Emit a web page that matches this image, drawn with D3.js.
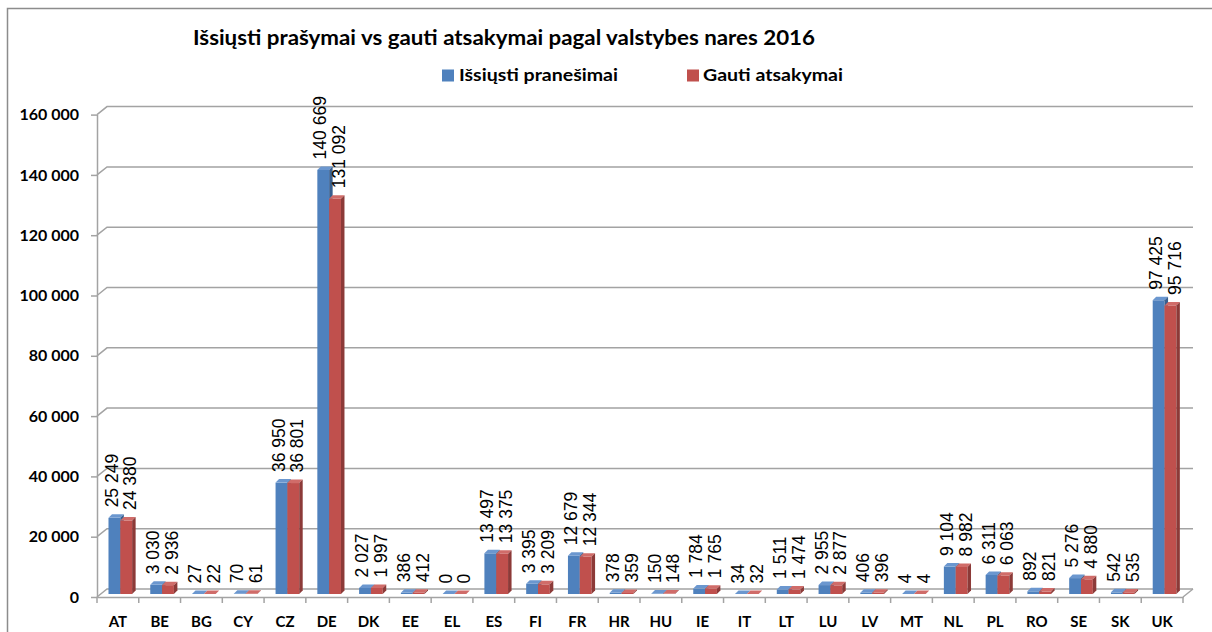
<!DOCTYPE html>
<html lang="lt">
<head>
<meta charset="UTF-8">
<title>Išsiųsti prašymai vs gauti atsakymai</title>
<script src="https://d3js.org/d3.v7.min.js"></script>
<style>
  body { margin: 0; background: #fff; }
  svg { display: block; }
  .ytick text { font: bold 16px Lato, "Open Sans", sans-serif; fill: #000; }
  .xcat text { font: bold 15px Lato, "Open Sans", sans-serif; fill: #000; }
  .lbl { font: 17.5px "Liberation Sans", Arial, sans-serif; fill: #000; }
</style>
</head>
<body>
<svg width="1212" height="632"></svg>
<script>
// values
const countries = ["AT","BE","BG","CY","CZ","DE","DK","EE","EL","ES","FI","FR","HR","HU","IE","IT","LT","LU","LV","MT","NL","PL","RO","SE","SK","UK"];
const sent     = [25249, 3030, 27, 70, 36950, 140669, 2027, 386, 0, 13497, 3395, 12679, 378, 150, 1784, 34, 1511, 2955, 406, 4, 9104, 6311, 892, 5276, 542, 97425];
const received = [24380, 2936, 22, 61, 36801, 131092, 1997, 412, 0, 13375, 3209, 12344, 359, 148, 1765, 32, 1474, 2877, 396, 4, 8982, 6063, 821, 4880, 535, 95716];
const seriesNames = ["Išsiųsti pranešimai", "Gauti atsakymai"];
const yTicks = [0, 20000, 40000, 60000, 80000, 100000, 120000, 140000, 160000];
const title = "Išsiųsti prašymai vs gauti atsakymai pagal valstybes nares 2016";

const colors = [
  {front: "#4f81bd", top: "#6b97cf", side: "#385f8f"},
  {front: "#c0504d", top: "#d06c69", side: "#8c3a38"}
];

const svg = d3.select("svg");
const fmt = d3.formatLocale({decimal: ",", thousands: " ", grouping: [3], currency: ["", ""]}).format(",");

// outer frame
svg.append("rect")
  .attr("x", 7.5).attr("y", 8.5).attr("width", 1230).attr("height", 660)
  .attr("fill", "none").attr("stroke", "#8c8c8c").attr("stroke-width", 1.5);

// title
svg.append("text")
  .attr("x", 193).attr("y", 45)
  .attr("textLength", 622).attr("lengthAdjust", "spacingAndGlyphs")
  .style("font", "bold 20px Lato, 'Open Sans', sans-serif")
  .text(title);

// legend
const legendPos = [{x: 442, tx: 459, tw: 159}, {x: 687, tx: 703, tw: 140}];
seriesNames.forEach((name, i) => {
  svg.append("rect")
    .attr("x", legendPos[i].x).attr("y", 69.5).attr("width", 12).attr("height", 12)
    .attr("fill", colors[i].front);
  svg.append("text")
    .attr("x", legendPos[i].tx).attr("y", 81)
    .attr("textLength", legendPos[i].tw).attr("lengthAdjust", "spacingAndGlyphs")
    .style("font", "bold 17px Lato, 'Open Sans', sans-serif")
    .text(name);
});

// scales
const left = 97, right = 1183, depthX = 10, depthY = 8;
const x = d3.scaleBand().domain(countries).range([left, right]);
const y = d3.scaleLinear().domain([0, 160000]).range([597, 114.6]);
const grid = "#a3a3a3";

// 3D gridlines on back wall
svg.append("g").selectAll("path")
  .data(yTicks)
  .join("path")
  .attr("d", v => `M${left},${y(v)}L${left + depthX},${y(v) - depthY}H${right + depthX}`)
  .attr("fill", "none").attr("stroke", grid).attr("stroke-width", 1.5);

// floor front edge and right side
svg.append("path")
  .attr("d", `M${right},${y(0)}L${right + depthX},${y(0) - depthY}`)
  .attr("fill", "none").attr("stroke", grid).attr("stroke-width", 1.5);

// y axis
const yAxis = svg.append("g")
  .attr("class", "ytick")
  .attr("transform", `translate(${left},0)`)
  .call(d3.axisLeft(y).tickValues(yTicks).tickSize(6).tickSizeOuter(0).tickPadding(12).tickFormat(fmt));
yAxis.selectAll("path, line").attr("stroke", grid).attr("stroke-width", 1.5);

// x axis (front edge of floor) with labels
const xAxis = svg.append("g")
  .attr("class", "xcat")
  .attr("transform", `translate(0,${y(0)})`)
  .call(d3.axisBottom(x).tickSize(0).tickPadding(19));
xAxis.select(".domain").attr("stroke", grid).attr("stroke-width", 1.5);

// boundary ticks between categories
svg.append("g").selectAll("line")
  .data(countries.map(c => x(c)).concat([right]))
  .join("line")
  .attr("x1", d => d).attr("x2", d => d)
  .attr("y1", y(0)).attr("y2", y(0) + 6)
  .attr("stroke", grid).attr("stroke-width", 1.5);

// bars
const bw = x.bandwidth() * 0.283;
const off = x.bandwidth() * 0.275;
const d = 3.5;
const base = y(0) - 3;
const yb = v => y(v) - 3;

const bars = svg.append("g");
const labels = svg.append("g");
countries.forEach((c, i) => {
  [sent[i], received[i]].forEach((v, s) => {
    const x0 = x(c) + off + s * bw;
    const yt = yb(v);
    const col = colors[s];
    bars.append("rect")
      .attr("x", x0).attr("y", yt).attr("width", bw).attr("height", base - yt)
      .attr("fill", col.front);
    bars.append("path")
      .attr("d", `M${x0},${yt}L${x0 + d},${yt - d}H${x0 + bw + d}L${x0 + bw},${yt}Z`)
      .attr("fill", col.top);
    bars.append("path")
      .attr("d", `M${x0 + bw},${yt}L${x0 + bw + d},${yt - d}V${base - d}L${x0 + bw},${base}Z`)
      .attr("fill", col.side);
    const lx = x0 + bw / 2 + (s === 0 ? -3 : 4);
    labels.append("text")
      .attr("class", "lbl")
      .attr("transform", `translate(${lx},${yt - d - 7}) rotate(-90)`)
      .attr("dy", "0.35em")
      .text(fmt(v));
  });
});
</script>
</body>
</html>
